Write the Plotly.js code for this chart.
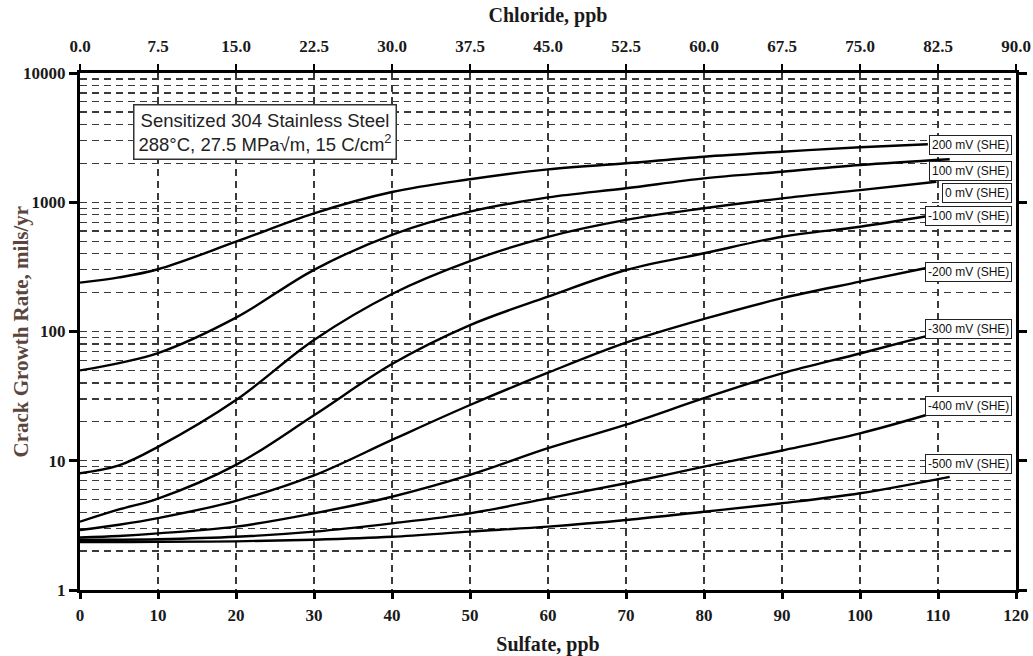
<!DOCTYPE html>
<html>
<head>
<meta charset="utf-8">
<script src="https://cdn.plot.ly/plotly-3.0.1.min.js"></script>
<style>html,body{margin:0;padding:0;background:#fff;}#chart{width:1033px;height:656px;}</style>
</head>
<body>
<div id="chart"></div>
<script>
// Sulfate concentration (ppb) at which each curve was read
const sulfate = [0, 5, 10, 20, 30, 40, 50, 60, 70, 80, 90, 100];
// Potential labels
const potentials = ['200 mV (SHE)', '100 mV (SHE)', '0 mV (SHE)', '-100 mV (SHE)',
                    '-200 mV (SHE)', '-300 mV (SHE)', '-400 mV (SHE)', '-500 mV (SHE)'];
// Crack growth rate (mils/yr) for each potential at the sulfate values above
const rate200  = [239, 262, 303, 495, 821, 1200, 1506, 1798, 2001, 2250, 2460, 2662];
const rate100  = [50, 57, 68, 128, 300, 560, 845, 1090, 1282, 1531, 1722, 1941];
const rate0    = [8.0, 9.2, 12.8, 29.5, 86, 195, 350, 540, 730, 898, 1072, 1242];
const rateM100 = [3.38, 4.2, 5.1, 9.3, 22.5, 56, 112, 186, 299, 403, 541, 647];
const rateM200 = [2.91, 3.2, 3.6, 4.9, 7.7, 14.5, 27, 48, 82, 125, 181, 243];
const rateM300 = [2.55, 2.62, 2.74, 3.09, 3.92, 5.27, 7.77, 12.5, 19, 30.5, 47.5, 67.6];
const rateM400 = [2.45, 2.45, 2.47, 2.58, 2.83, 3.28, 3.92, 5.12, 6.7, 9.0, 12.0, 16.3];
const rateM500 = [2.35, 2.35, 2.36, 2.38, 2.45, 2.58, 2.83, 3.09, 3.48, 4.03, 4.69, 5.6];
// Last point of each curve (where it meets its label)
const endSulfate = [108.7, 111.5, 109.8, 108.5, 108.5, 108.5, 108.5, 111.5];
const endRate    = [2810, 2150, 1440, 780, 310, 92, 22.6, 7.5];
// Label positions (crack growth rate at label centre)
const labelRate  = [2775, 1746, 1170, 783, 288, 104.5, 26.7, 9.44];
// Secondary axis: chloride (ppb)
const chlorideRange = [0, 90];
const chlorideStep = 7.5;

const series = [rate200, rate100, rate0, rateM100, rateM200, rateM300, rateM400, rateM500];

const traces = series.map((r, i) => ({
  x: sulfate.concat([endSulfate[i]]),
  y: r.concat([endRate[i]]),
  type: 'scatter', mode: 'lines', name: potentials[i],
  line: {color: '#000', width: 2.4, shape: 'spline', smoothing: 1},
  hoverinfo: 'x+y+name', showlegend: false
}));
// invisible trace to carry the chloride axis
traces.push({x: chlorideRange, y: [1, 1], xaxis: 'x2', type: 'scatter', mode: 'lines',
  opacity: 0, hoverinfo: 'skip', showlegend: false});

const serif = 'Liberation Serif, Times New Roman, serif';
const sans = 'Liberation Sans, Arial, sans-serif';
const tickFont = {family: serif, size: 17, weight: 700, color: '#1a1a1a'};
const titleFont = {family: serif, size: 20, weight: 700, color: '#1a1a1a'};
const gridCol = '#3a3a3a';

const annotations = potentials.map((p, i) => ({
  text: p, xref: 'paper', yref: 'y', x: 0.9957, y: Math.log10(labelRate[i]),
  xanchor: 'right', yanchor: 'middle', showarrow: false,
  font: {family: sans, size: 12, color: '#111'},
  bgcolor: '#fff', bordercolor: '#222', borderwidth: 1, borderpad: 2
}));
annotations.push({
  text: 'Sensitized 304 Stainless Steel<br>288°C, 27.5 MPa√m, 15 C/cm<sup>2</sup>',
  xref: 'paper', yref: 'paper', x: 0.0566, y: 0.94, xanchor: 'left', yanchor: 'top',
  align: 'center', showarrow: false, font: {family: sans, size: 18.5, color: '#222'},
  bgcolor: '#fff', bordercolor: '#333', borderwidth: 1.5, borderpad: 4
});
// y-axis title, placed as in the reference
annotations.push({
  text: 'Crack Growth Rate, mils/yr', xref: 'paper', yref: 'paper',
  x: -0.0641, y: 0.5, xanchor: 'center', yanchor: 'middle', textangle: -90,
  showarrow: false, font: {family: serif, size: 21, weight: 700, color: '#5a463c'}
});

const layout = {
  width: 1033, height: 656,
  margin: {l: 80, r: 17, t: 73, b: 66},
  paper_bgcolor: '#fff', plot_bgcolor: '#fff',
  showlegend: false,
  xaxis: {
    range: [0, 120], tick0: 0, dtick: 10, zeroline: false,
    showgrid: true, gridcolor: gridCol, griddash: '7px,5px', gridwidth: 1.2,
    showline: true, linewidth: 3, linecolor: '#000', mirror: true,
    ticks: 'outside', ticklen: 6, tickwidth: 3, tickcolor: '#000',
    tickfont: tickFont, ticklabelstandoff: 2,
    title: {text: 'Sulfate, ppb', font: titleFont, standoff: 14}
  },
  xaxis2: {
    overlaying: 'x', side: 'top', range: chlorideRange, tick0: 0, dtick: chlorideStep,
    tickformat: '.1f', zeroline: false, showgrid: false,
    showline: true, linewidth: 3, linecolor: '#000',
    ticks: 'outside', ticklen: 6, tickwidth: 1.5, tickcolor: '#000',
    tickfont: tickFont, ticklabelstandoff: 5,
    title: {text: 'Chloride, ppb', font: titleFont, standoff: 10}
  },
  yaxis: {
    type: 'log', range: [0, 4], dtick: 1, tickformat: 'd', zeroline: false,
    showgrid: true, gridcolor: gridCol, griddash: '7px,5px', gridwidth: 1.2,
    minor: {dtick: 'D1', showgrid: true, gridcolor: gridCol, griddash: '7px,5px', gridwidth: 1.2, ticks: ''},
    showline: true, linewidth: 3, linecolor: '#000', mirror: 'ticks',
    ticks: 'outside', ticklen: 8, tickwidth: 3, tickcolor: '#000',
    tickfont: tickFont
  },
  annotations: annotations
};

Plotly.newPlot('chart', traces, layout, {displayModeBar: false, staticPlot: true});
</script>
</body>
</html>
